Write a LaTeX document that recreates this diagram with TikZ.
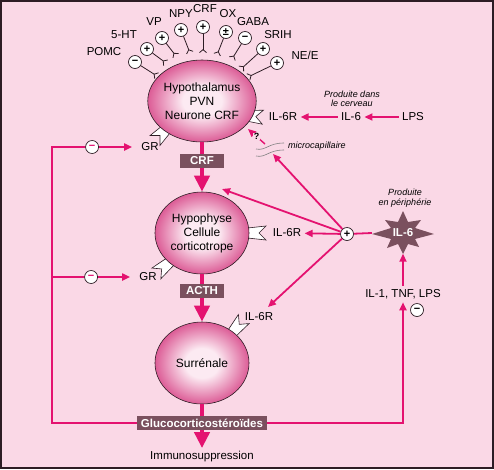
\documentclass[tikz,border=0pt]{standalone}
\usepackage{fontspec}
\setmainfont{Liberation Sans}
\usetikzlibrary{arrows.meta,positioning,calc,shapes.geometric}

\definecolor{fond}{RGB}{250,216,230}
\definecolor{rose}{RGB}{228,18,112}
\definecolor{mauve}{RGB}{122,80,94}
\definecolor{bord}{RGB}{45,28,36}
\definecolor{centre}{RGB}{252,234,242}
\definecolor{peau}{RGB}{220,92,150}

\pgfdeclareradialshading{boule}{\pgfpoint{0bp}{0bp}}{color(0bp)=(centre); color(9bp)=(centre); color(25bp)=(peau); color(50bp)=(peau)}

\tikzset{
  recepteur/.pic={\draw[bord, fill=white, line width=0.6pt] (-6,-4.5) -- (17,-7) -- (10,0) -- (17,7) -- (-6,4.5) -- cycle;},
}

\begin{document}
\begin{tikzpicture}[x=1pt,y=-1pt,font=\fontsize{11.5}{14}\selectfont,
    organe/.style={ellipse, draw=bord, line width=0.6pt, minimum width=94, minimum height=82, inner sep=0, align=center,
      shading=boule, font=\fontsize{12}{14}\selectfont},
    hormone/.style={fill=mauve, text=white, font=\bfseries\fontsize{11.5}{13}\selectfont, minimum width=44, minimum height=14, inner xsep=4, inner ysep=2.5},
    signe/.style={circle, draw=bord, fill=white, line width=0.7pt, minimum size=13, inner sep=0, font=\bfseries\fontsize{11}{11}\selectfont},
    note/.style={font=\itshape\fontsize{9}{9.5}\selectfont, align=center},
    entree/.style={bord, line width=0.8pt, -{Straight Barb[reversed,length=3pt,width=7pt]}},
    ligne/.style={rose, line width=1.8pt},
    fleche/.style={rose, line width=1.8pt, -{Triangle[length=8pt,width=7pt]}},
    epaisse/.style={rose, line width=4.2pt},
    grosse/.style={rose, line width=4.2pt, -{Triangle[length=16pt,width=15pt]}}]

    \useasboundingbox (0,0) rectangle (494,469);
    \fill[fond] (0,0) rectangle (494,469);
    \draw[bord, line width=2pt] (1,1) rectangle (493,468);

    \coordinate (chypo) at (202,101);
    \coordinate (chypoph) at (202,233);
    \coordinate (csurr) at (202,363);

    \pic[rotate=-5] at ($(chypo)+(-21:47pt and 41pt)$) {recepteur};
    \pic[rotate=225] at ($(chypo)+(222:47pt and 41pt)$) {recepteur};
    \pic[rotate=0] at ($(chypoph)+(0:47pt and 41pt)$) {recepteur};
    \pic[rotate=220] at ($(chypoph)+(226:47pt and 41pt)$) {recepteur};
    \pic[rotate=50] at ($(csurr)+(49:47pt and 41pt)$) {recepteur};

    \node[organe] (hypo) at (chypo) {Hypothalamus\\PVN\\Neurone CRF};
    \node[organe] (hypoph) at (chypoph) {Hypophyse\\Cellule\\corticotrope};
    \node[organe] (surr) at (csurr) {Surrénale};

    \foreach \i/\sig/\sx/\sy/\fx/\fy/\txt/\lx/\ly in {
        1/−/135/62/157/76/POMC/104/52,
        2/+/147/49/166/63/5-HT/124/35,
        3/+/162/38/176/56/VP/154/22,
        4/+/181/30/190/53/NPY/181/14,
        5/+/203/27/203/53/CRF/205/9,
        6/±/226/32/217/55/OX/228/14,
        7/−/245/38/232/59/GABA/253/22,
        8/+/263/49/241/69/SRIH/278/35,
        9/+/277/63/248/77/{NE/E}/305/55} {
        \node[signe] (s\i) at (\sx,\sy) {\sig};
        \coordinate (f\i) at (\fx,\fy);
        \draw[entree] (s\i) -- (f\i);
        \node (l\i) at (\lx,\ly) {\txt};
    }

    \node[hormone] (crf) at (202,161) {CRF};
    \node[hormone] (acth) at (202,291) {ACTH};
    \node[hormone, inner xsep=4] (gluco) at (202,423) {Glucocorticostéroïdes};
    \node (immuno) at (202,457) {Immunosuppression};

    \draw[epaisse] (hypo) -- (crf);
    \draw[grosse] (crf) -- (hypoph);
    \draw[epaisse] (hypoph) -- (acth);
    \draw[grosse] (acth) -- (surr);
    \draw[epaisse] (surr) -- (gluco);
    \draw[grosse] (gluco) -- (immuno);

    \node[inner xsep=9] (gr1) at (150,147) {GR};
    \node[inner xsep=9] (gr2) at (148,277) {GR};
    \coordinate (gauche) at (52,423);
    \coordinate (branche) at (52,277);
    \draw[fleche] (gluco.west) -- (gauche) |- node[pos=0.75, signe] (m1) {−} (gr1);
    \draw[ligne] (branche) -- (gauche);
    \draw[fleche] (branche) -- node[signe] (m2) {−} (gr2);

    \node (il6r1) at (283,117) {IL-6R};
    \node (il6c) at (351,117) {IL-6};
    \node (lps) at (413,117) {LPS};
    \node[note] (cerveau) at (352,99) {Produite dans\\le cerveau};
    \draw[fleche] (lps) -- (il6c);
    \draw[fleche] (il6c) -- (il6r1);

    \node (il6r2) at (287,233) {IL-6R};
    \node (il6r3) at (259,317) {IL-6R};

    \coordinate (cil6) at (403,233);
    \fill[mauve, shift={(cil6)}] (31,1) -- (12,-5) -- (18,-13) -- (5,-11) -- (0,-22) -- (-5,-11) -- (-18,-13) -- (-12,-5)
        -- (-31,1) -- (-12,6) -- (-16,15) -- (-5,11) -- (0,21) -- (5,11) -- (16,14) -- (12,6) -- cycle;
    \node[minimum width=62, minimum height=41, text=white, font=\bfseries\fontsize{11.5}{13}\selectfont] (il6) at (cil6) {IL-6};
    \node[note] (periph) at (405,198) {Produite\\en périphérie};

    \node (il1) at (403,294) {IL-1, TNF, LPS};
    \node[signe] (m3) at (417,310) {−};
    \draw[fleche] (gluco.east) -| (il1.south);
    \draw[fleche] (il1) -- (il6.south);

    \node[signe] (plus) at (347,234) {+};
    \draw[ligne] (il6.west) -- (plus);
    \coordinate (vershypoph) at (222,189);
    \coordinate (verssurr) at (268,307);
    \coordinate (capil) at (273,154);
    \coordinate (capilhaut) at (265,144);
    \coordinate (vershypo) at (248,129);
    \draw[fleche] (plus) -- (il6r2);
    \draw[fleche] (plus) -- (vershypoph);
    \draw[fleche] (plus) -- (verssurr);
    \draw[fleche] (plus) -- (capil);

    \draw[gray, line width=0.6pt] (256,149) .. controls (266,151) and (268,143) .. (284,143);
    \draw[gray, line width=0.6pt] (256,156) .. controls (266,158) and (268,150) .. (284,150);
    \node[note] (micro) at (317,146) {microcapillaire};
    \draw[fleche, line width=1.4pt] (capilhaut) -- node[fill=fond, inner sep=0.5pt, text=black, font=\bfseries\fontsize{9}{9}\selectfont] (question) {?} (vershypo);
\end{tikzpicture}
\end{document}
